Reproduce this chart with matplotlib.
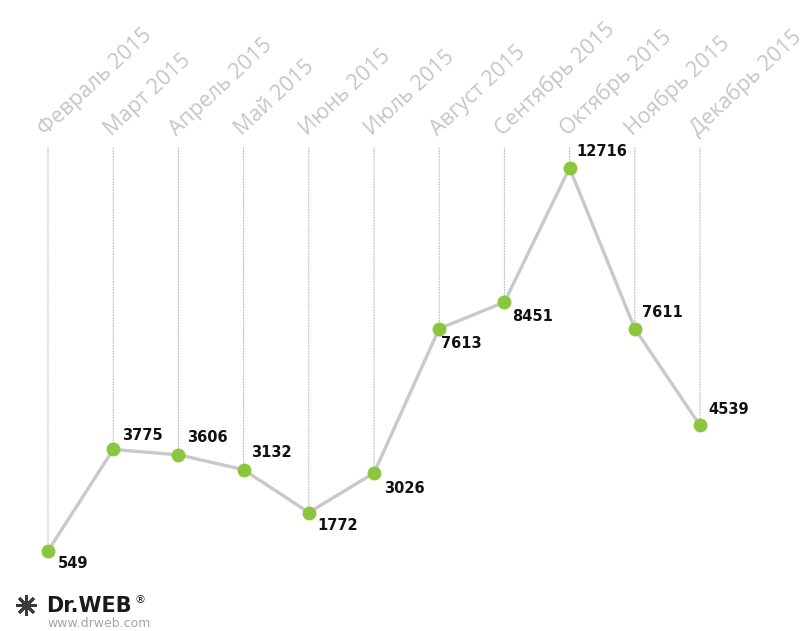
import numpy as np
import matplotlib.pyplot as plt
from matplotlib import transforms

months = ['Февраль 2015', 'Март 2015', 'Апрель 2015', 'Май 2015', 'Июнь 2015',
          'Июль 2015', 'Август 2015', 'Сентябрь 2015', 'Октябрь 2015',
          'Ноябрь 2015', 'Декабрь 2015']
values = [549, 3775, 3606, 3132, 1772, 3026, 7613, 8451, 12716, 7611, 4539]
# where the number sits relative to the dot (pixels)
label_offsets = [(10, -12), (9, 14), (9, 17), (7, 17), (9, -13), (10, -15),
                 (2, -15), (8, -14), (7, 16), (7, 16), (8, 16)]

fig = plt.figure(figsize=(8.06, 6.31), dpi=100)
ax = fig.add_axes([0, 0, 1, 1])
x = np.arange(len(values))

ax.set_xlim(-0.736, 11.626)
ax.set_ylim(-1992, 18052)
ax.axis('off')

# x in data, y in axes fraction
trans = transforms.blended_transform_factory(ax.transData, ax.transAxes)
top = 1 - 148 / 631
for i, m in enumerate(months):
    ax.annotate('', xy=(i, values[i]), xycoords='data',
                xytext=(i, top), textcoords=trans,
                arrowprops=dict(arrowstyle='-', color='#bdbdbd', lw=0.8,
                                ls=(0, (1, 1.5)), shrinkA=0, shrinkB=0))
    ax.text(i - 0.03, 1 - 136 / 631, m, transform=trans, rotation=43,
            rotation_mode='anchor', ha='left', va='baseline',
            fontsize=15.5, color='#c6c6c6', family='Open Sans')

ax.plot(x, values, color='#c9c9c9', lw=2.4, zorder=2)
ax.plot(x, values, ls='none', marker='o', ms=9, color='#8cc63e', zorder=3)

for i, v in enumerate(values):
    dx, dy = label_offsets[i]
    ax.annotate(str(v), xy=(i, v), xytext=(dx * 0.72, dy * 0.72),
                textcoords='offset points', ha='left', va='center',
                fontsize=10.5, fontweight='bold', color='#111111',
                family='DejaVu Sans')

# Dr.WEB logo
ax.plot([26 / 806], [1 - 605 / 631], transform=ax.transAxes, marker=(8, 2, 0),
        ms=15, color='#3a3a3a', mew=2, clip_on=False)
ax.plot([26 / 806], [1 - 605 / 631], transform=ax.transAxes, marker='o',
        ms=6, color='#3a3a3a', clip_on=False)
ax.text(46 / 806, 1 - 612 / 631, 'Dr.WEB', transform=ax.transAxes, fontsize=15,
        fontweight='heavy', color='#1a1a1a', va='baseline', family='DejaVu Sans')
ax.text(135 / 806, 1 - 603 / 631, '®', transform=ax.transAxes, fontsize=8,
        color='#1a1a1a', va='baseline')
ax.text(47 / 806, 1 - 627 / 631, 'www.drweb.com', transform=ax.transAxes,
        fontsize=9, color='#a5a5a5', va='baseline', family='DejaVu Sans')

fig.savefig('out.png', dpi=100)
